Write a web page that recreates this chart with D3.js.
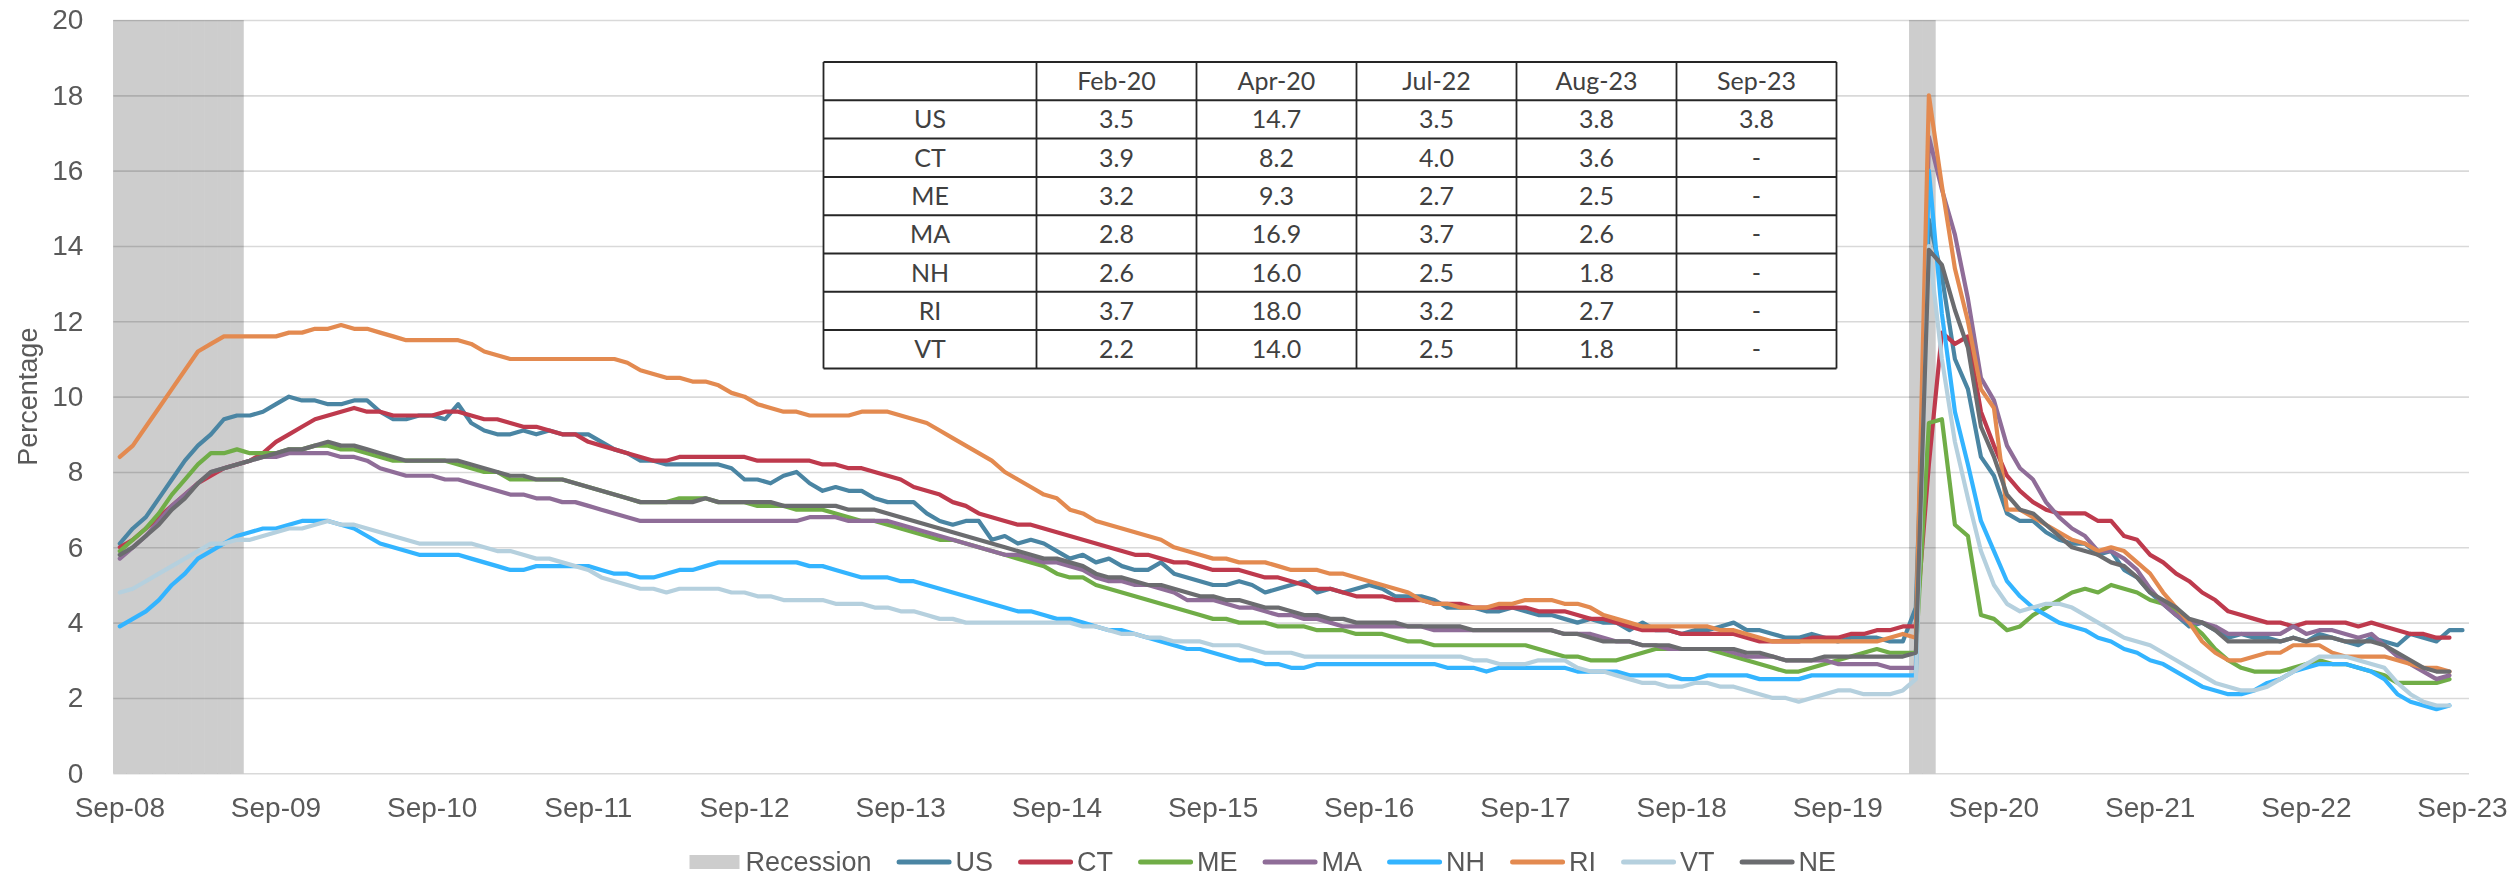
<!DOCTYPE html>
<html>
<head>
<meta charset="utf-8">
<script src="https://cdn.jsdelivr.net/npm/d3@7"></script>
<style>
  body { margin: 0; background: #fff; }
  svg { display: block; }
</style>
</head>
<body>
<div class="chart-container"></div>
<script>
// monthly categories, Sep-08 .. Sep-23
const startMonth = new Date(2008, 8, 1)
const endMonth = new Date(2023, 8, 1)
const fmtMonth = d3.timeFormat('%b-%y')
const months = d3.timeMonth.range(startMonth, d3.timeMonth.offset(endMonth, 1)).map(fmtMonth)

const xTickLabels = ['Sep-08', 'Sep-09', 'Sep-10', 'Sep-11', 'Sep-12', 'Sep-13', 'Sep-14', 'Sep-15',
  'Sep-16', 'Sep-17', 'Sep-18', 'Sep-19', 'Sep-20', 'Sep-21', 'Sep-22', 'Sep-23']
const yTicks = [0, 2, 4, 6, 8, 10, 12, 14, 16, 18, 20]

const recessionMonths = ['Sep-08', 'Oct-08', 'Nov-08', 'Dec-08', 'Jan-09', 'Feb-09', 'Mar-09',
  'Apr-09', 'May-09', 'Jun-09', 'Mar-20', 'Apr-20']
const recessionTop = 20

const us = [
  6.1, 6.5, 6.8, 7.3,
  7.8, 8.3, 8.7, 9.0, 9.4, 9.5, 9.5, 9.6, 9.8, 10.0, 9.9, 9.9,
  9.8, 9.8, 9.9, 9.9, 9.6, 9.4, 9.4, 9.5, 9.5, 9.4, 9.8, 9.3,
  9.1, 9.0, 9.0, 9.1, 9.0, 9.1, 9.0, 9.0, 9.0, 8.8, 8.6, 8.5,
  8.3, 8.3, 8.2, 8.2, 8.2, 8.2, 8.2, 8.1, 7.8, 7.8, 7.7, 7.9,
  8.0, 7.7, 7.5, 7.6, 7.5, 7.5, 7.3, 7.2, 7.2, 7.2, 6.9, 6.7,
  6.6, 6.7, 6.7, 6.2, 6.3, 6.1, 6.2, 6.1, 5.9, 5.7, 5.8, 5.6,
  5.7, 5.5, 5.4, 5.4, 5.6, 5.3, 5.2, 5.1, 5.0, 5.0, 5.1, 5.0,
  4.8, 4.9, 5.0, 5.1, 4.8, 4.9, 4.8, 4.9, 5.0, 4.9, 4.7, 4.7,
  4.7, 4.6, 4.4, 4.4, 4.4, 4.3, 4.3, 4.4, 4.3, 4.2, 4.2, 4.1,
  4.0, 4.1, 4.0, 4.0, 3.8, 4.0, 3.8, 3.8, 3.7, 3.8, 3.8, 3.9,
  4.0, 3.8, 3.8, 3.7, 3.6, 3.6, 3.7, 3.6, 3.5, 3.6, 3.6, 3.6,
  3.5, 3.5, 4.4, 14.7, 13.2, 11.0, 10.2, 8.4, 7.9, 6.9, 6.7, 6.7,
  6.4, 6.2, 6.1, 6.1, 5.8, 5.9, 5.4, 5.2, 4.8, 4.5, 4.2, 3.9,
  4.0, 3.8, 3.6, 3.7, 3.6, 3.6, 3.5, 3.6, 3.5, 3.7, 3.6, 3.5,
  3.4, 3.6, 3.5, 3.4, 3.7, 3.6, 3.5, 3.8, 3.8
]

const ct = [
  6.0, 6.2, 6.5, 6.8, 7.1, 7.4, 7.7, 7.9, 8.1, 8.2, 8.3, 8.5,
  8.8, 9.0, 9.2, 9.4, 9.5, 9.6, 9.7, 9.6, 9.6, 9.5, 9.5, 9.5,
  9.5, 9.6, 9.6, 9.5, 9.4, 9.4, 9.3, 9.2, 9.2, 9.1, 9.0, 9.0,
  8.8, 8.7, 8.6, 8.5, 8.4, 8.3, 8.3, 8.4, 8.4, 8.4, 8.4, 8.4,
  8.4, 8.3, 8.3, 8.3, 8.3, 8.3, 8.2, 8.2, 8.1, 8.1, 8.0, 7.9,
  7.8, 7.6, 7.5, 7.4, 7.2, 7.1, 6.9, 6.8, 6.7, 6.6, 6.6, 6.5,
  6.4, 6.3, 6.2, 6.1, 6.0, 5.9, 5.8, 5.8, 5.7, 5.6, 5.6, 5.5,
  5.4, 5.4, 5.4, 5.3, 5.2, 5.2, 5.1, 5.0, 4.9, 4.9, 4.8, 4.7,
  4.7, 4.7, 4.6, 4.6, 4.6, 4.5, 4.5, 4.5, 4.4, 4.4, 4.4, 4.4,
  4.4, 4.3, 4.3, 4.3, 4.2, 4.1, 4.1, 4.0, 3.9, 3.8, 3.8, 3.8,
  3.7, 3.7, 3.7, 3.7, 3.7, 3.6, 3.5, 3.5, 3.5, 3.5, 3.6, 3.6,
  3.6, 3.7, 3.7, 3.8, 3.8, 3.9, 3.9, 8.2, 11.7, 11.4, 11.6, 9.6,
  8.7, 7.9, 7.5, 7.2, 7.0, 6.9, 6.9, 6.9, 6.7, 6.7, 6.3, 6.2,
  5.8, 5.6, 5.3, 5.1, 4.8, 4.6, 4.3, 4.2, 4.1, 4.0, 4.0, 3.9,
  4.0, 4.0, 4.0, 4.0, 3.9, 4.0, 3.9, 3.8, 3.7, 3.7, 3.6, 3.6
]

const me = [
  5.9, 6.2, 6.5, 6.9, 7.4, 7.8, 8.2, 8.5, 8.5, 8.6, 8.5, 8.5,
  8.5, 8.6, 8.6, 8.7, 8.7, 8.6, 8.6, 8.5, 8.4, 8.3, 8.3, 8.3,
  8.3, 8.3, 8.2, 8.1, 8.0, 8.0, 7.8, 7.8, 7.8, 7.8, 7.8, 7.7,
  7.6, 7.5, 7.4, 7.3, 7.2, 7.2, 7.2, 7.3, 7.3, 7.3, 7.2, 7.2,
  7.2, 7.1, 7.1, 7.1, 7.0, 7.0, 7.0, 6.9, 6.8, 6.7, 6.7, 6.6,
  6.5, 6.4, 6.3, 6.2, 6.2, 6.1, 6.0, 5.9, 5.8, 5.7, 5.6, 5.5,
  5.3, 5.2, 5.2, 5.0, 4.9, 4.8, 4.7, 4.6, 4.5, 4.4, 4.3, 4.2,
  4.1, 4.1, 4.0, 4.0, 4.0, 3.9, 3.9, 3.9, 3.8, 3.8, 3.8, 3.7,
  3.7, 3.7, 3.6, 3.5, 3.5, 3.4, 3.4, 3.4, 3.4, 3.4, 3.4, 3.4,
  3.4, 3.3, 3.2, 3.1, 3.1, 3.0, 3.0, 3.0, 3.1, 3.2, 3.3, 3.3,
  3.3, 3.3, 3.3, 3.2, 3.1, 3.0, 2.9, 2.8, 2.7, 2.7, 2.8, 2.9,
  3.0, 3.1, 3.2, 3.3, 3.2, 3.2, 3.2, 9.3, 9.4, 6.6, 6.3, 4.2,
  4.1, 3.8, 3.9, 4.2, 4.4, 4.6, 4.8, 4.9, 4.8, 5.0, 4.9, 4.8,
  4.6, 4.5, 4.3, 4.0, 3.7, 3.3, 3.0, 2.8, 2.7, 2.7, 2.7, 2.8,
  2.9, 3.0, 2.9, 2.9, 2.8, 2.7, 2.6, 2.4, 2.4, 2.4, 2.4, 2.5
]

const ma = [
  5.7, 6.0, 6.3, 6.7, 7.1, 7.4, 7.7, 8.0, 8.1, 8.2, 8.3, 8.4,
  8.4, 8.5, 8.5, 8.5, 8.5, 8.4, 8.4, 8.3, 8.1, 8.0, 7.9, 7.9,
  7.9, 7.8, 7.8, 7.7, 7.6, 7.5, 7.4, 7.4, 7.3, 7.3, 7.2, 7.2,
  7.1, 7.0, 6.9, 6.8, 6.7, 6.7, 6.7, 6.7, 6.7, 6.7, 6.7, 6.7,
  6.7, 6.7, 6.7, 6.7, 6.7, 6.8, 6.8, 6.8, 6.7, 6.7, 6.7, 6.7,
  6.6, 6.5, 6.4, 6.3, 6.2, 6.1, 6.0, 5.9, 5.8, 5.8, 5.7, 5.6,
  5.6, 5.5, 5.4, 5.2, 5.1, 5.1, 5.0, 5.0, 4.9, 4.8, 4.6, 4.6,
  4.6, 4.5, 4.4, 4.4, 4.3, 4.2, 4.2, 4.1, 4.1, 4.0, 3.9, 3.9,
  3.9, 3.9, 3.9, 3.9, 3.9, 3.8, 3.8, 3.8, 3.8, 3.8, 3.8, 3.8,
  3.8, 3.8, 3.8, 3.7, 3.7, 3.7, 3.6, 3.5, 3.5, 3.4, 3.4, 3.3,
  3.3, 3.3, 3.3, 3.3, 3.2, 3.1, 3.1, 3.1, 3.0, 3.0, 3.0, 3.0,
  2.9, 2.9, 2.9, 2.9, 2.8, 2.8, 2.8, 16.9, 15.5, 14.3, 12.6, 10.5,
  9.9, 8.7, 8.1, 7.8, 7.2, 6.8, 6.5, 6.3, 5.9, 5.9, 5.7, 5.4,
  4.9, 4.5, 4.2, 4.0, 4.0, 3.9, 3.7, 3.7, 3.7, 3.7, 3.7, 3.9,
  3.7, 3.8, 3.8, 3.7, 3.6, 3.7, 3.4, 3.1, 2.9, 2.7, 2.5, 2.6
]

const nh = [
  3.9, 4.1, 4.3, 4.6, 5.0, 5.3, 5.7, 5.9, 6.1, 6.3, 6.4, 6.5,
  6.5, 6.6, 6.7, 6.7, 6.7, 6.6, 6.5, 6.3, 6.1, 6.0, 5.9, 5.8,
  5.8, 5.8, 5.8, 5.7, 5.6, 5.5, 5.4, 5.4, 5.5, 5.5, 5.5, 5.5,
  5.5, 5.4, 5.3, 5.3, 5.2, 5.2, 5.3, 5.4, 5.4, 5.5, 5.6, 5.6,
  5.6, 5.6, 5.6, 5.6, 5.6, 5.5, 5.5, 5.4, 5.3, 5.2, 5.2, 5.2,
  5.1, 5.1, 5.0, 4.9, 4.8, 4.7, 4.6, 4.5, 4.4, 4.3, 4.3, 4.2,
  4.1, 4.1, 4.0, 3.9, 3.8, 3.8, 3.7, 3.6, 3.5, 3.4, 3.3, 3.3,
  3.2, 3.1, 3.0, 3.0, 2.9, 2.9, 2.8, 2.8, 2.9, 2.9, 2.9, 2.9,
  2.9, 2.9, 2.9, 2.9, 2.9, 2.9, 2.8, 2.8, 2.8, 2.7, 2.8, 2.8,
  2.8, 2.8, 2.8, 2.8, 2.7, 2.7, 2.7, 2.7, 2.6, 2.6, 2.6, 2.6,
  2.5, 2.5, 2.6, 2.6, 2.6, 2.6, 2.5, 2.5, 2.5, 2.5, 2.6, 2.6,
  2.6, 2.6, 2.6, 2.6, 2.6, 2.6, 2.6, 16.0, 12.2, 9.6, 8.2, 6.7,
  5.9, 5.1, 4.7, 4.4, 4.2, 4.0, 3.9, 3.8, 3.6, 3.5, 3.3, 3.2,
  3.0, 2.9, 2.7, 2.5, 2.3, 2.2, 2.1, 2.1, 2.2, 2.4, 2.5, 2.7,
  2.8, 2.9, 2.9, 2.9, 2.8, 2.7, 2.5, 2.1, 1.9, 1.8, 1.7, 1.8
]

const ri = [
  8.4, 8.7, 9.2, 9.7, 10.2, 10.7, 11.2, 11.4, 11.6, 11.6, 11.6, 11.6,
  11.6, 11.7, 11.7, 11.8, 11.8, 11.9, 11.8, 11.8, 11.7, 11.6, 11.5, 11.5,
  11.5, 11.5, 11.5, 11.4, 11.2, 11.1, 11.0, 11.0, 11.0, 11.0, 11.0, 11.0,
  11.0, 11.0, 11.0, 10.9, 10.7, 10.6, 10.5, 10.5, 10.4, 10.4, 10.3, 10.1,
  10.0, 9.8, 9.7, 9.6, 9.6, 9.5, 9.5, 9.5, 9.5, 9.6, 9.6, 9.6,
  9.5, 9.4, 9.3, 9.1, 8.9, 8.7, 8.5, 8.3, 8.0, 7.8, 7.6, 7.4,
  7.3, 7.0, 6.9, 6.7, 6.6, 6.5, 6.4, 6.3, 6.2, 6.0, 5.9, 5.8,
  5.7, 5.7, 5.6, 5.6, 5.6, 5.5, 5.4, 5.4, 5.4, 5.3, 5.3, 5.2,
  5.1, 5.0, 4.9, 4.8, 4.6, 4.5, 4.5, 4.4, 4.4, 4.4, 4.5, 4.5,
  4.6, 4.6, 4.6, 4.5, 4.5, 4.4, 4.2, 4.1, 4.0, 3.9, 3.9, 3.9,
  3.9, 3.9, 3.9, 3.8, 3.8, 3.7, 3.6, 3.5, 3.5, 3.5, 3.5, 3.5,
  3.5, 3.5, 3.5, 3.5, 3.6, 3.7, 3.6, 18.0, 15.6, 13.4, 12.0, 10.2,
  9.7, 7.0, 7.0, 6.8, 6.6, 6.4, 6.2, 6.1, 5.9, 6.0, 5.9, 5.6,
  5.3, 4.8, 4.4, 4.0, 3.5, 3.2, 3.0, 3.0, 3.1, 3.2, 3.2, 3.4,
  3.4, 3.4, 3.2, 3.1, 3.1, 3.1, 3.1, 3.0, 2.9, 2.8, 2.8, 2.7
]

const vt = [
  4.8, 4.9, 5.1, 5.3, 5.5, 5.7, 5.9, 6.1, 6.1, 6.2, 6.2, 6.3,
  6.4, 6.5, 6.5, 6.6, 6.7, 6.6, 6.6, 6.5, 6.4, 6.3, 6.2, 6.1,
  6.1, 6.1, 6.1, 6.1, 6.0, 5.9, 5.9, 5.8, 5.7, 5.7, 5.6, 5.5,
  5.4, 5.2, 5.1, 5.0, 4.9, 4.9, 4.8, 4.9, 4.9, 4.9, 4.9, 4.8,
  4.8, 4.7, 4.7, 4.6, 4.6, 4.6, 4.6, 4.5, 4.5, 4.5, 4.4, 4.4,
  4.3, 4.3, 4.2, 4.1, 4.1, 4.0, 4.0, 4.0, 4.0, 4.0, 4.0, 4.0,
  4.0, 4.0, 3.9, 3.9, 3.8, 3.7, 3.7, 3.6, 3.6, 3.5, 3.5, 3.5,
  3.4, 3.4, 3.4, 3.3, 3.2, 3.2, 3.2, 3.1, 3.1, 3.1, 3.1, 3.1,
  3.1, 3.1, 3.1, 3.1, 3.1, 3.1, 3.1, 3.1, 3.0, 3.0, 2.9, 2.9,
  2.9, 3.0, 3.0, 3.0, 2.8, 2.7, 2.7, 2.6, 2.5, 2.4, 2.4, 2.3,
  2.3, 2.4, 2.4, 2.3, 2.3, 2.2, 2.1, 2.0, 2.0, 1.9, 2.0, 2.1,
  2.2, 2.2, 2.1, 2.1, 2.1, 2.2, 2.5, 14.0, 11.0, 8.8, 7.3, 5.9,
  5.0, 4.5, 4.3, 4.4, 4.5, 4.5, 4.4, 4.2, 4.0, 3.8, 3.6, 3.5,
  3.4, 3.2, 3.0, 2.8, 2.6, 2.4, 2.3, 2.2, 2.2, 2.3, 2.5, 2.7,
  2.9, 3.1, 3.1, 3.1, 3.0, 2.9, 2.8, 2.4, 2.1, 1.9, 1.8, 1.8
]

const ne = [
  5.8, 6.0, 6.3, 6.6, 7.0, 7.3, 7.7, 8.0, 8.1, 8.2, 8.3, 8.4,
  8.5, 8.6, 8.6, 8.7, 8.8, 8.7, 8.7, 8.6, 8.5, 8.4, 8.3, 8.3,
  8.3, 8.3, 8.3, 8.2, 8.1, 8.0, 7.9, 7.9, 7.8, 7.8, 7.8, 7.7,
  7.6, 7.5, 7.4, 7.3, 7.2, 7.2, 7.2, 7.2, 7.2, 7.3, 7.2, 7.2,
  7.2, 7.2, 7.2, 7.1, 7.1, 7.1, 7.1, 7.1, 7.0, 7.0, 7.0, 6.9,
  6.8, 6.7, 6.6, 6.5, 6.4, 6.3, 6.2, 6.1, 6.0, 5.9, 5.8, 5.7,
  5.7, 5.6, 5.5, 5.3, 5.2, 5.2, 5.1, 5.0, 5.0, 4.9, 4.8, 4.7,
  4.7, 4.6, 4.6, 4.5, 4.4, 4.4, 4.3, 4.2, 4.2, 4.1, 4.1, 4.0,
  4.0, 4.0, 4.0, 3.9, 3.9, 3.9, 3.9, 3.9, 3.8, 3.8, 3.8, 3.8,
  3.8, 3.8, 3.8, 3.7, 3.7, 3.6, 3.5, 3.5, 3.5, 3.4, 3.4, 3.4,
  3.3, 3.3, 3.3, 3.3, 3.3, 3.2, 3.2, 3.1, 3.0, 3.0, 3.0, 3.1,
  3.1, 3.1, 3.1, 3.1, 3.1, 3.1, 3.2, 13.9, 13.5, 12.3, 11.3, 9.2,
  8.4, 7.4, 7.0, 6.9, 6.6, 6.3, 6.0, 5.9, 5.8, 5.6, 5.5, 5.2,
  4.8, 4.6, 4.4, 4.1, 4.0, 3.8, 3.5, 3.5, 3.5, 3.5, 3.5, 3.6,
  3.5, 3.6, 3.6, 3.5, 3.5, 3.5, 3.4, 3.2, 3.0, 2.8, 2.7, 2.7
]

const seriesNames = ['US', 'CT', 'ME', 'MA', 'NH', 'RI', 'VT', 'NE']
const seriesValues = [us, ct, me, ma, nh, ri, vt, ne]
const seriesColors = ['#4a85a3', '#be3a4d', '#70ad47', '#8f6d98', '#33b4ff', '#e38a50', '#b5d0de', '#6b6c6f']

// the inset table
const tableColumns = ['Feb-20', 'Apr-20', 'Jul-22', 'Aug-23', 'Sep-23']
const tableStates = ['US', 'CT', 'ME', 'MA', 'NH', 'RI', 'VT']
const tableCells = [
  ['3.5', '14.7', '3.5', '3.8', '3.8'],
  ['3.9', '8.2', '4.0', '3.6', '-'],
  ['3.2', '9.3', '2.7', '2.5', '-'],
  ['2.8', '16.9', '3.7', '2.6', '-'],
  ['2.6', '16.0', '2.5', '1.8', '-'],
  ['3.7', '18.0', '3.2', '2.7', '-'],
  ['2.2', '14.0', '2.5', '1.8', '-']
]

const W = 2509, H = 879
const margin = { top: 20, right: 40, bottom: 105.7, left: 113.3 }
const width = W - margin.left - margin.right
const height = H - margin.top - margin.bottom
const axisFont = '"Liberation Sans", Arial, sans-serif'
const textColor = '#595959'

const svg = d3.select('.chart-container')
  .append('svg')
  .attr('width', W)
  .attr('height', H)

svg.append('rect').attr('width', W).attr('height', H).attr('fill', '#fff')

const g = svg.append('g')
  .attr('transform', `translate(${margin.left},${margin.top})`)

const x = d3.scaleBand().domain(months).range([0, width]).padding(0)
const y = d3.scaleLinear().domain([0, 20]).range([height, 0])
const xc = d => x(d) + x.bandwidth() / 2

// recession bars
g.append('g')
  .selectAll('rect')
  .data(recessionMonths)
  .enter()
  .append('rect')
  .attr('x', d => x(d) - 0.3)
  .attr('width', x.bandwidth() + 0.6)
  .attr('y', y(recessionTop))
  .attr('height', y(0) - y(recessionTop))
  .attr('fill', '#cdcdcd')

// gridlines + y labels
let yAxis = g.append('g')
  .call(d3.axisLeft(y).tickValues(yTicks).tickSize(-width).tickPadding(30))
yAxis.select('.domain').remove()
yAxis.selectAll('.tick line')
  .attr('stroke', '#d9d9d9')
  .attr('stroke-width', 1.6)
  .style('mix-blend-mode', 'multiply')
yAxis.selectAll('.tick text')
  .attr('fill', textColor)
  .style('font-family', axisFont)
  .style('font-size', '28px')

// x labels
let xAxis = g.append('g')
  .attr('transform', `translate(0,${height})`)
  .call(d3.axisBottom(x).tickValues(xTickLabels).tickSize(0).tickPadding(24))
xAxis.select('.domain').remove()
xAxis.selectAll('.tick text')
  .attr('fill', textColor)
  .style('font-family', axisFont)
  .style('font-size', '28px')

// y title
svg.append('text')
  .attr('transform', `translate(37,${margin.top + height / 2}) rotate(-90)`)
  .attr('text-anchor', 'middle')
  .attr('fill', textColor)
  .style('font-family', axisFont)
  .style('font-size', '27px')
  .text('Percentage')

// series lines
let line = d3.line()
  .x((d, i) => xc(months[i]))
  .y(d => y(d))

seriesValues.forEach((vals, k) => {
  g.append('path')
    .datum(vals)
    .attr('fill', 'none')
    .attr('stroke', seriesColors[k])
    .attr('stroke-width', 4.2)
    .attr('stroke-linejoin', 'round')
    .attr('stroke-linecap', 'round')
    .attr('d', line)
})

// inset table
const tLeft = 823.5, tTop = 62, firstColW = 213, colW = 160, rowH = 38.3
const nRows = tableStates.length + 1
const tWidth = firstColW + colW * tableColumns.length
let table = svg.append('g')
table.append('rect')
  .attr('x', tLeft).attr('y', tTop)
  .attr('width', tWidth).attr('height', rowH * nRows)
  .attr('fill', '#fff')

const colLeft = i => tLeft + (i === 0 ? 0 : firstColW + colW * (i - 1))
const colMid = i => i === 0 ? tLeft + firstColW / 2 : colLeft(i) + colW / 2

d3.range(nRows + 1).forEach(r => {
  table.append('line')
    .attr('x1', tLeft).attr('x2', tLeft + tWidth)
    .attr('y1', tTop + r * rowH).attr('y2', tTop + r * rowH)
    .attr('stroke', '#262626').attr('stroke-width', 2)
})
d3.range(tableColumns.length + 2).forEach(c => {
  let cx = c === tableColumns.length + 1 ? tLeft + tWidth : colLeft(c)
  table.append('line')
    .attr('x1', cx).attr('x2', cx)
    .attr('y1', tTop).attr('y2', tTop + rowH * nRows)
    .attr('stroke', '#262626').attr('stroke-width', 1.8)
})

const cellText = (cx, cy, txt) => {
  table.append('text')
    .attr('x', cx).attr('y', cy)
    .attr('dy', '0.36em')
    .attr('text-anchor', 'middle')
    .attr('fill', '#404040')
    .style('font-family', 'Lato, "Open Sans", sans-serif')
    .style('font-size', '25px')
    .text(txt)
}
tableColumns.forEach((c, i) => cellText(colMid(i + 1), tTop + rowH / 2, c))
tableStates.forEach((s, r) => {
  let cy = tTop + rowH * (r + 1.5)
  cellText(colMid(0), cy, s)
  tableCells[r].forEach((v, i) => cellText(colMid(i + 1), cy, v))
})

// legend
let legend = svg.append('g').attr('transform', 'translate(0,862)')
let lx = 689.5
const legendFont = { family: axisFont, size: '27px' }

legend.append('rect')
  .attr('x', lx).attr('y', -7)
  .attr('width', 50).attr('height', 14)
  .attr('fill', '#cdcdcd')
let t0 = legend.append('text')
  .attr('x', lx + 56).attr('y', 9)
  .attr('fill', textColor)
  .style('font-family', legendFont.family)
  .style('font-size', legendFont.size)
  .text('Recession')
lx = lx + 56 + t0.node().getComputedTextLength() + 25

seriesNames.forEach((name, k) => {
  legend.append('line')
    .attr('x1', lx + 2.5).attr('x2', lx + 52.5)
    .attr('y1', 0).attr('y2', 0)
    .attr('stroke', seriesColors[k])
    .attr('stroke-width', 5)
    .attr('stroke-linecap', 'round')
  let t = legend.append('text')
    .attr('x', lx + 59).attr('y', 9)
    .attr('fill', textColor)
    .style('font-family', legendFont.family)
    .style('font-size', legendFont.size)
    .text(name)
  lx = lx + 59 + t.node().getComputedTextLength() + 25
})
</script>
</body>
</html>
